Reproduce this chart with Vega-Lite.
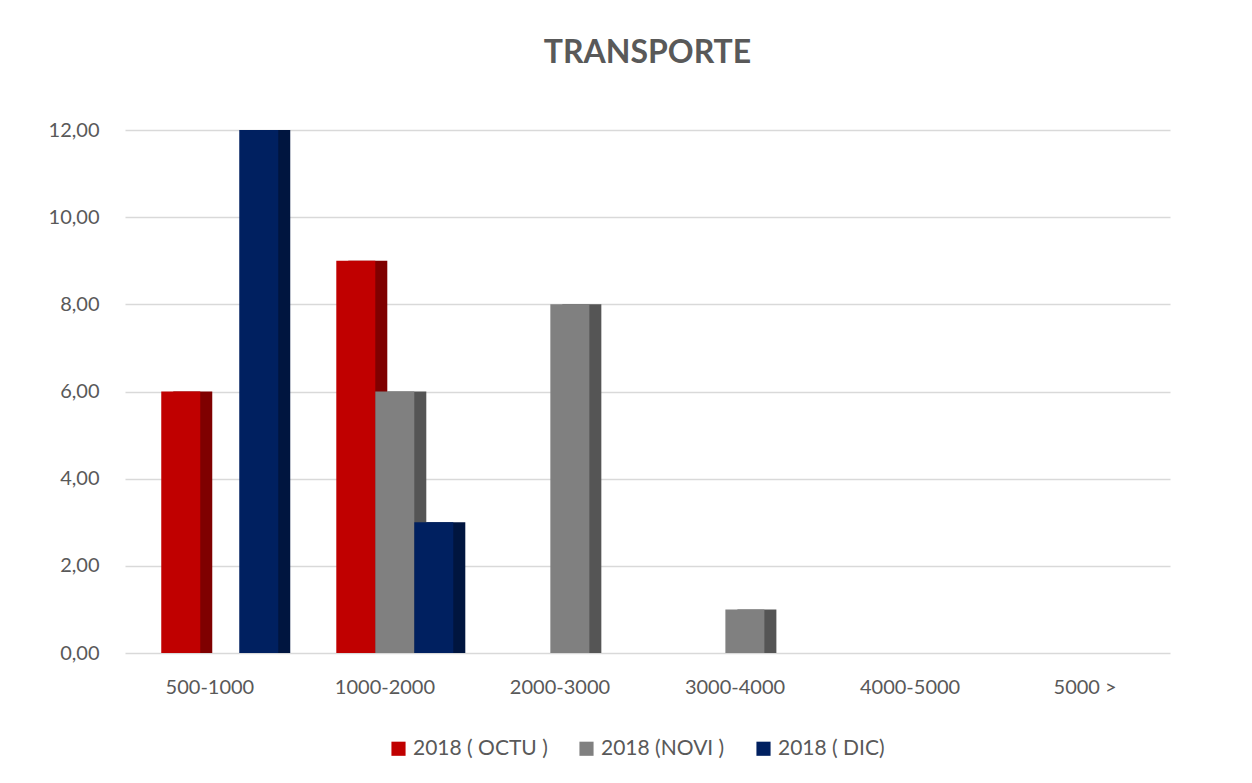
{
  "$schema": "https://vega.github.io/schema/vega-lite/v6.json",
  "width": 1045,
  "height": 523,
  "padding": {"left": 48, "top": 37, "right": 57, "bottom": 10},
  "background": "white",
  "title": {"text": "TRANSPORTE", "font": "Lato", "fontSize": 32, "fontWeight": "bold", "color": "#595959", "offset": 50, "anchor": "middle"},
  "data": {"values": [
    {"rango": "500-1000", "serie": "2018 ( OCTU )", "valor": 6},
    {"rango": "500-1000", "serie": "2018 (NOVI )", "valor": 0},
    {"rango": "500-1000", "serie": "2018 ( DIC)", "valor": 12},
    {"rango": "1000-2000", "serie": "2018 ( OCTU )", "valor": 9},
    {"rango": "1000-2000", "serie": "2018 (NOVI )", "valor": 6},
    {"rango": "1000-2000", "serie": "2018 ( DIC)", "valor": 3},
    {"rango": "2000-3000", "serie": "2018 ( OCTU )", "valor": 0},
    {"rango": "2000-3000", "serie": "2018 (NOVI )", "valor": 8},
    {"rango": "2000-3000", "serie": "2018 ( DIC)", "valor": 0},
    {"rango": "3000-4000", "serie": "2018 ( OCTU )", "valor": 0},
    {"rango": "3000-4000", "serie": "2018 (NOVI )", "valor": 1},
    {"rango": "3000-4000", "serie": "2018 ( DIC)", "valor": 0},
    {"rango": "4000-5000", "serie": "2018 ( OCTU )", "valor": 0},
    {"rango": "4000-5000", "serie": "2018 (NOVI )", "valor": 0},
    {"rango": "4000-5000", "serie": "2018 ( DIC)", "valor": 0},
    {"rango": "5000 >", "serie": "2018 ( OCTU )", "valor": 0},
    {"rango": "5000 >", "serie": "2018 (NOVI )", "valor": 0},
    {"rango": "5000 >", "serie": "2018 ( DIC)", "valor": 0}
  ]},
  "encoding": {
    "x": {"field": "rango", "type": "nominal", "sort": null,
      "scale": {"paddingInner": 0.33, "paddingOuter": 0.15},
      "axis": {"title": null, "labelAngle": 0, "labelFont": "Lato", "labelFontSize": 20, "labelColor": "#595959", "labelPadding": 24, "ticks": false, "domain": false}},
    "y": {"field": "valor", "type": "quantitative",
      "scale": {"domain": [0, 12]},
      "axis": {"title": null, "values": [0, 2, 4, 6, 8, 10, 12], "labelExpr": "replace(format(datum.value, '.2f'), '.', ',')", "labelFont": "Lato", "labelFontSize": 20, "labelColor": "#595959", "labelPadding": 26, "ticks": false, "domain": false, "gridColor": "#d9d9d9", "gridWidth": 1.5}}
  },
  "layer": [
    {
      "mark": {"type": "bar", "stroke": null},
      "encoding": {
        "xOffset": {"field": "serie", "type": "nominal", "sort": null, "scale": {"range": [22, 139]}},
        "color": {"field": "serie", "type": "nominal", "sort": null,
          "scale": {"domain": ["2018 ( OCTU )", "2018 (NOVI )", "2018 ( DIC)"], "range": ["#7f0000", "#555555", "#00153f"]},
          "legend": null}
      }
    },
    {
      "mark": {"type": "bar", "stroke": null},
      "encoding": {
        "xOffset": {"field": "serie", "type": "nominal", "sort": null, "scale": {"range": [10, 127]}},
        "fill": {"field": "serie", "type": "nominal", "sort": null,
          "scale": {"domain": ["2018 ( OCTU )", "2018 (NOVI )", "2018 ( DIC)"], "range": ["#c00000", "#808080", "#002060"]},
          "legend": {"title": null, "orient": "none", "legendX": 263, "legendY": 608, "direction": "horizontal", "symbolType": "square", "symbolSize": 200, "symbolStrokeWidth": 0, "labelFont": "Lato", "labelFontSize": 21, "labelColor": "#595959", "columnPadding": 28}}
      }
    }
  ],
  "resolve": {"scale": {"xOffset": "independent", "color": "independent"}},
  "config": {"view": {"stroke": null}}
}
